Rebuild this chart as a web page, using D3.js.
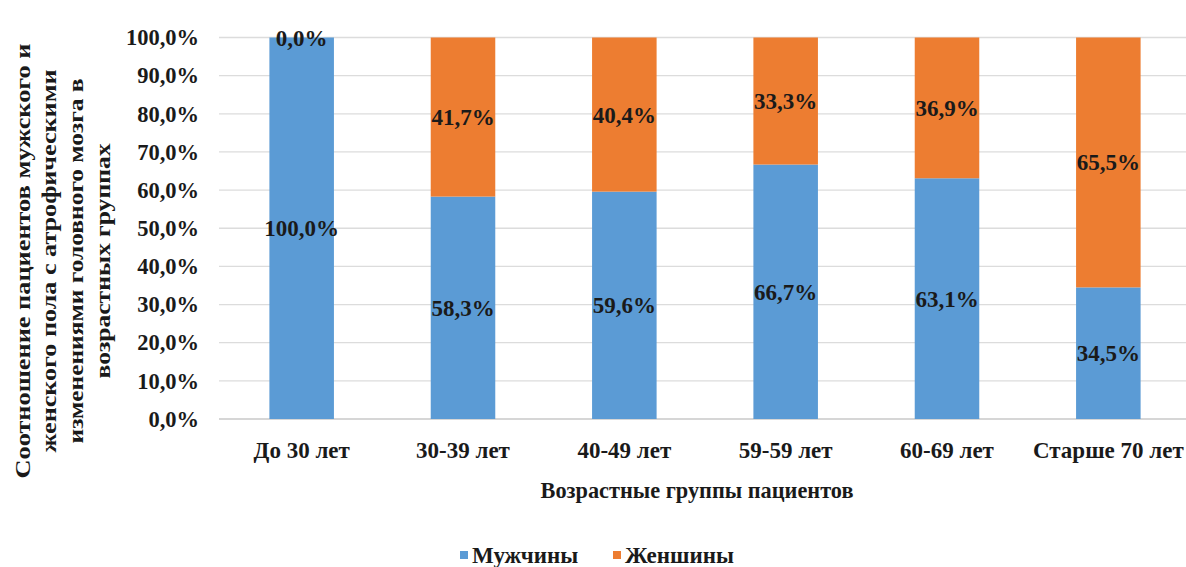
<!DOCTYPE html>
<html><head><meta charset="utf-8">
<script src="https://cdn.jsdelivr.net/npm/d3@7"></script>
<style>body{margin:0;background:#fff}svg{display:block}</style>
</head><body>
<script>
const categories = ["До 30 лет","30-39 лет","40-49 лет","59-59 лет","60-69 лет","Старше 70 лет"];
const men = [100.0, 58.3, 59.6, 66.7, 63.1, 34.5];
const women = [0.0, 41.7, 40.4, 33.3, 36.9, 65.5];
const seriesNames = ["Мужчины","Женшины"];
const yTicks = [0,10,20,30,40,50,60,70,80,90,100];
const yTitleLines = ["Соотношение пациентов мужского и","женского пола с атрофическими","изменениями головного мозга в","возрастных группах"];
const xTitle = "Возрастные группы пациентов";
const colors = ["#5B9BD5","#ED7D31"];

const FONT='"Liberation Serif","Times New Roman",serif';
const W=1186,H=567;
const svg=d3.select("body").append("svg").attr("width",W).attr("height",H);
function st(sel,size){return sel.attr("font-family",null).style("font-family",FONT).style("font-weight","bold").style("font-size",size+"px").style("fill","#1a1a1a");}
const x=d3.scaleBand().domain(categories).range([221,1189]).paddingInner(0.6).paddingOuter(0.3);
const y=d3.scaleLinear().domain([0,100]).range([419,37.5]);

// grid
svg.append("g").selectAll("line").data(yTicks).join("line")
 .attr("x1",219).attr("x2",W).attr("y1",d=>y(d)).attr("y2",d=>y(d))
 .attr("stroke",d=>d===0?"#c8c8c8":"#dcdcdc").attr("stroke-width",1.3);

// y axis labels
const fmt=d=>d.toFixed(1).replace(".",",")+"%";
const yAxis=d3.axisLeft(y).tickValues(yTicks).tickFormat(fmt).tickSize(0).tickPadding(0);
const ga=svg.append("g").attr("transform","translate(199,0)").call(yAxis);
ga.select(".domain").remove();
st(ga.selectAll("text"),22.5);

// stacked data
const rows=categories.map((c,i)=>({cat:c,m:men[i],w:women[i]}));
const stack=d3.stack().keys(["m","w"])(rows);
svg.append("g").selectAll("g").data(stack).join("g").attr("fill",(d,i)=>colors[i])
 .selectAll("rect").data(d=>d).join("rect")
 .attr("x",d=>x(d.data.cat)).attr("width",x.bandwidth())
 .attr("y",d=>y(d[1])).attr("height",d=>y(d[0])-y(d[1]));

// data labels
const lab=svg.append("g");
stack.forEach((s,si)=>{
  st(lab.selectAll(null).data(s).join("text")
   .attr("x",d=>x(d.data.cat)+x.bandwidth()/2)
   .attr("y",d=>y((d[0]+d[1])/2))
   .attr("dy","0.35em").attr("text-anchor","middle")
   .text(d=>fmt(d[1]-d[0])),23);
});

// x axis labels
const xAxis=d3.axisBottom(x).tickSize(0).tickPadding(0);
const gx=svg.append("g").attr("transform","translate(0,450)").call(xAxis);
gx.select(".domain").remove();
st(gx.selectAll("text").attr("dy","0.35em"),23);

// x title
st(svg.append("text").attr("x",697).attr("y",490).attr("dy","0.35em").attr("text-anchor","middle").text(xTitle),22.3);

// y title
const yxs=[23,49,76,103];
const ylens=[435,383,365,235];
yTitleLines.forEach((t,i)=>{
  st(svg.append("text").attr("transform",`translate(${yxs[i]},261) rotate(-90)`).attr("dy","0.35em")
   .attr("text-anchor","middle").attr("textLength",ylens[i]).attr("lengthAdjust","spacingAndGlyphs").text(t),21);
});

// legend
const leg=svg.append("g");
const lx=[460,613];
seriesNames.forEach((n,i)=>{
  leg.append("rect").attr("x",lx[i]).attr("y",551).attr("width",8).attr("height",8).attr("fill",colors[i]);
  st(leg.append("text").attr("x",lx[i]+12).attr("y",555).attr("dy","0.35em").text(n),23);
});
</script>
</body></html>
